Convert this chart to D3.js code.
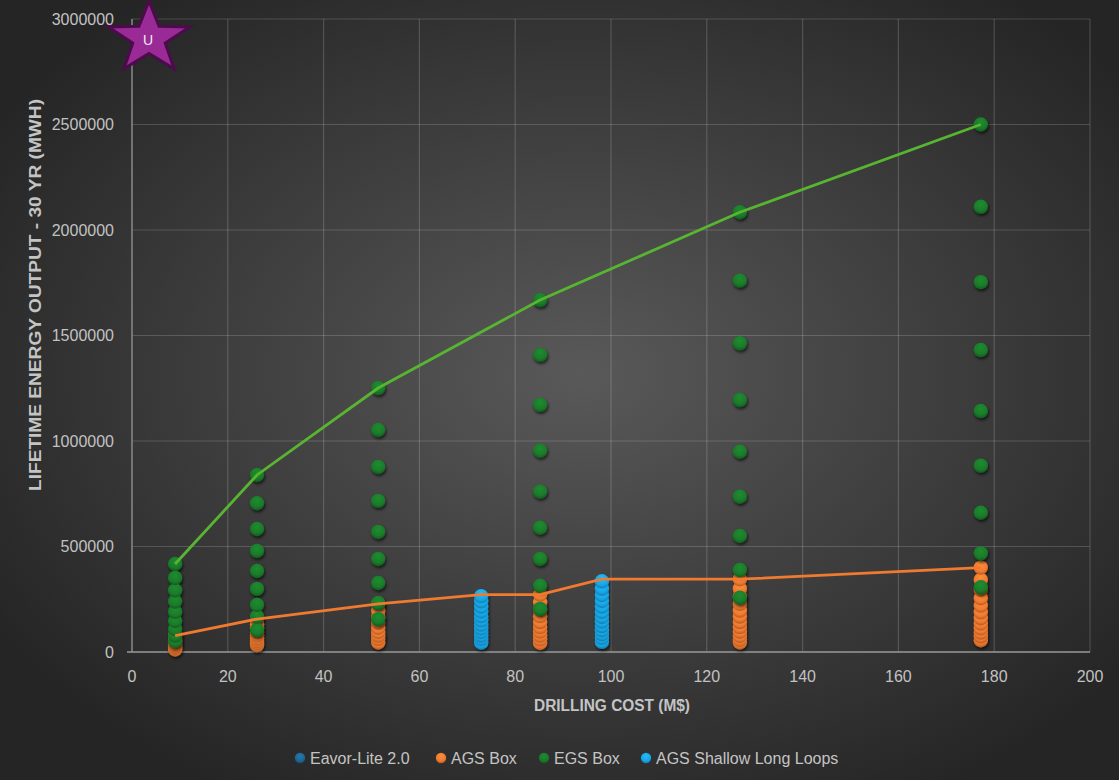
<!DOCTYPE html>
<html>
<head>
<meta charset="utf-8">
<script src="https://cdn.jsdelivr.net/npm/d3@7"></script>
<style>
  body { margin: 0; background: #2a2a2a; }
  svg { display: block; }
</style>
</head>
<body>
<svg id="chart" width="1119" height="780"></svg>
<script>
// drilling cost columns (M$)
const costCols = [9, 26.1, 51.4, 85.2, 126.9, 177.2];
const shallowCols = [72.9, 98.1];

// EGS Box, one list per cost column
const egsValues = [
  [417000, 351000, 292000, 239000, 190000, 147000, 109000, 78000, 52000],
  [839000, 705000, 583000, 479000, 384000, 299000, 223000, 168000, 104000],
  [1251000, 1052000, 877000, 716000, 569000, 441000, 327000, 232000, 156000],
  [1668000, 1408000, 1171000, 954000, 760000, 589000, 441000, 314000, 204000],
  [2084000, 1760000, 1463000, 1194000, 949000, 736000, 550000, 389000, 257000],
  [2500000, 2110000, 1753000, 1431000, 1142000, 883000, 660000, 467000, 307000]
];

// AGS Box
const agsValues = [
  [78000, 66000, 55000, 46000, 38000, 31000, 25000, 19000, 12000],
  [156000, 132000, 112000, 94000, 78000, 64000, 52000, 42000, 33000],
  [228000, 195000, 165000, 138000, 115000, 95000, 78000, 62000, 45000],
  [272000, 235000, 200000, 170000, 142000, 118000, 97000, 78000, 60000, 43000],
  [345000, 300000, 262000, 228000, 196000, 168000, 142000, 118000, 96000, 76000, 58000, 45000],
  [400000, 342000, 295000, 255000, 220000, 188000, 160000, 135000, 112000, 92000, 74000, 56000]
];

// AGS Shallow Long Loops
const shallowValues = [
  [265000, 240000, 215000, 192000, 170000, 150000, 130000, 112000, 95000, 78000, 62000, 44000],
  [335000, 300000, 270000, 242000, 215000, 190000, 166000, 144000, 123000, 103000, 85000, 67000, 48000]
];

// Eavor-Lite 2.0 (hidden behind AGS Box)
const eavorCost = [51.4];
const eavorValues = [70000];

// envelope lines
const egsLineX = [9, 26.1, 51.4, 85.2, 126.9, 177.2];
const egsLineY = [417000, 839000, 1251000, 1668000, 2084000, 2500000];
const agsLineX = [9, 26.1, 51.4, 72.9, 85.2, 98.1, 126.9, 177.2];
const agsLineY = [78000, 156000, 228000, 272000, 272000, 345000, 345000, 400000];

const xTicks = [0, 20, 40, 60, 80, 100, 120, 140, 160, 180, 200];
const yTicks = [0, 500000, 1000000, 1500000, 2000000, 2500000, 3000000];

const seriesNames = ["Eavor-Lite 2.0", "AGS Box", "EGS Box", "AGS Shallow Long Loops"];
const seriesColors = ["#1f6796", "#f07a30", "#1a7a2a", "#18a6e6"];

const svg = d3.select("#chart");
const W = 1119, H = 780;

const x = d3.scaleLinear().domain([0, 200]).range([132, 1090]);
const y = d3.scaleLinear().domain([0, 3000000]).range([652, 19]);

const defs = svg.append("defs");
const bg = defs.append("radialGradient").attr("id", "bg")
  .attr("cx", "52%").attr("cy", "48%").attr("r", "62%");
bg.append("stop").attr("offset", "0%").attr("stop-color", "#595959");
bg.append("stop").attr("offset", "100%").attr("stop-color", "#252525");

const shadow = defs.append("filter").attr("id", "shadow")
  .attr("x", "-50%").attr("y", "-50%").attr("width", "200%").attr("height", "200%");
shadow.append("feDropShadow").attr("dx", 1).attr("dy", 2)
  .attr("stdDeviation", 1.6).attr("flood-color", "#000").attr("flood-opacity", 0.65);

seriesColors.forEach((c, i) => {
  const g = defs.append("radialGradient").attr("id", "ball" + i)
    .attr("cx", "50%").attr("cy", "32%").attr("r", "65%");
  g.append("stop").attr("offset", "0%").attr("stop-color", d3.color(c).brighter(0.4));
  g.append("stop").attr("offset", "70%").attr("stop-color", c);
  g.append("stop").attr("offset", "100%").attr("stop-color", d3.color(c).darker(0.7));
});

svg.append("rect").attr("width", W).attr("height", H).attr("fill", "url(#bg)");

// grid
svg.append("g").selectAll("line").data(yTicks.slice(1)).enter().append("line")
  .attr("x1", x(0)).attr("x2", x(200))
  .attr("y1", d => y(d)).attr("y2", d => y(d))
  .attr("stroke", "rgba(255,255,255,0.17)").attr("stroke-width", 1.2);
svg.append("g").selectAll("line").data(xTicks.slice(1)).enter().append("line")
  .attr("x1", d => x(d)).attr("x2", d => x(d))
  .attr("y1", y(0)).attr("y2", y(3000000))
  .attr("stroke", "rgba(255,255,255,0.17)").attr("stroke-width", 1.2);

// axes lines
svg.append("line").attr("x1", x(0)).attr("x2", x(0)).attr("y1", y(0)).attr("y2", y(3000000))
  .attr("stroke", "#8a8a8a").attr("stroke-width", 1.5);
svg.append("line").attr("x1", x(0) - 5).attr("x2", x(200)).attr("y1", y(0)).attr("y2", y(0))
  .attr("stroke", "#9a9a9a").attr("stroke-width", 1.5);

// tick labels
svg.append("g").selectAll("text").data(yTicks).enter().append("text")
  .attr("x", 114).attr("y", d => y(d)).attr("dy", "0.35em")
  .attr("text-anchor", "end")
  .attr("font-family", "'Liberation Sans', Arial, sans-serif").attr("font-size", 16)
  .attr("fill", "#c2c2c2").text(d => d);
svg.append("g").selectAll("text").data(xTicks).enter().append("text")
  .attr("x", d => x(d)).attr("y", 676).attr("dy", "0.35em")
  .attr("text-anchor", "middle")
  .attr("font-family", "'Liberation Sans', Arial, sans-serif").attr("font-size", 16)
  .attr("fill", "#c2c2c2").text(d => d);

// axis titles
svg.append("text")
  .attr("transform", "translate(35," + 295 + ") rotate(-90)")
  .attr("text-anchor", "middle").attr("dy", "0.35em")
  .attr("font-family", "'Liberation Sans Narrow', 'Liberation Sans', sans-serif")
  .attr("font-weight", "bold").attr("font-size", 16).attr("fill", "#c4c4c4")
  .attr("textLength", 392).attr("lengthAdjust", "spacingAndGlyphs")
  .text("LIFETIME ENERGY OUTPUT - 30 YR (MWH)");
svg.append("text")
  .attr("x", 612).attr("y", 705).attr("dy", "0.35em")
  .attr("text-anchor", "middle")
  .attr("font-family", "'Liberation Sans Narrow', 'Liberation Sans', sans-serif")
  .attr("font-weight", "bold").attr("font-size", 16).attr("fill", "#c4c4c4")
  .attr("textLength", 156).attr("lengthAdjust", "spacingAndGlyphs")
  .text("DRILLING COST (M$)");

// points
function columnPoints(cols, vals) {
  const pts = [];
  cols.forEach((c, i) => vals[i].forEach(v => pts.push([c, v])));
  return pts;
}
const layers = [
  { pts: eavorCost.map((c, i) => [c, eavorValues[i]]), k: 0 },
  { pts: columnPoints(costCols, agsValues), k: 1 },
  { pts: columnPoints(costCols, egsValues), k: 2 },
  { pts: columnPoints(shallowCols, shallowValues), k: 3 }
];
layers.forEach(L => {
  svg.append("g").attr("filter", "url(#shadow)")
    .selectAll("circle").data(L.pts.slice().reverse()).enter().append("circle")
    .attr("cx", d => x(d[0])).attr("cy", d => y(d[1])).attr("r", 7.2)
    .attr("fill", "url(#ball" + L.k + ")");
});

// envelope lines
const line = d3.line().x(d => x(d[0])).y(d => y(d[1]));
svg.append("path").datum(egsLineX.map((v, i) => [v, egsLineY[i]]))
  .attr("d", line).attr("fill", "none").attr("stroke", "#58b531").attr("stroke-width", 2.8);
svg.append("path").datum(agsLineX.map((v, i) => [v, agsLineY[i]]))
  .attr("d", line).attr("fill", "none").attr("stroke", "#f07a30").attr("stroke-width", 2.8);

// legend
const legendX = [300, 441, 544, 646];
const lg = svg.append("g").selectAll("g").data(seriesNames).enter().append("g")
  .attr("transform", (d, i) => "translate(" + legendX[i] + ",758)");
lg.append("circle").attr("r", 5.2).attr("fill", (d, i) => "url(#ball" + i + ")");
lg.append("text").attr("x", 10).attr("dy", "0.35em")
  .attr("font-family", "'Liberation Sans', Arial, sans-serif").attr("font-size", 16)
  .attr("fill", "#c4c4c4").text(d => d);

// star badge
const starPts = [];
for (let i = 0; i < 10; i++) {
  const r = i % 2 === 0 ? 37.5 : 15;
  const a = -Math.PI / 2 + i * Math.PI / 5;
  starPts.push([149 + r * Math.cos(a) * 1.14, 38.5 + r * Math.sin(a)]);
}
svg.append("path").attr("d", d3.line()(starPts) + "Z")
  .attr("fill", "#9a2a96").attr("stroke", "#4c0c4c").attr("stroke-width", 3)
  .attr("stroke-linejoin", "miter");
svg.append("text").attr("x", 148).attr("y", 40).attr("dy", "0.35em")
  .attr("text-anchor", "middle")
  .attr("font-family", "'Liberation Sans', Arial, sans-serif").attr("font-size", 14)
  .attr("fill", "#eeeeee").text("U");
</script>
</body>
</html>
